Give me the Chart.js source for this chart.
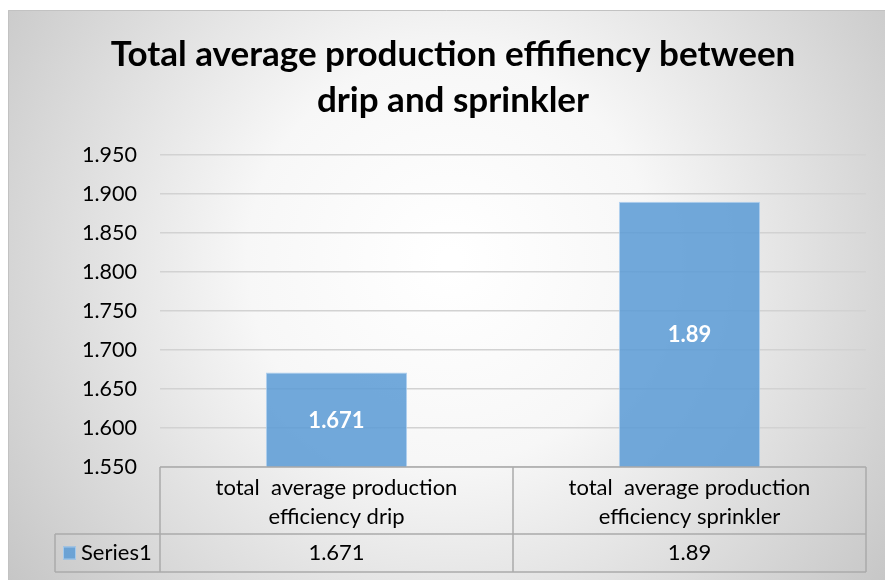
<!DOCTYPE html>
<html>
<head>
<meta charset="utf-8">
<script src="https://cdn.jsdelivr.net/npm/chart.js@4"></script>
<style>
  html, body { margin: 0; padding: 0; background: #ffffff; }
  #wrap { width: 885px; height: 580px; position: relative; }
</style>
</head>
<body>
<div id="wrap"><canvas id="c" width="885" height="580"></canvas></div>
<script>
const categories = [
  ['total  average production', 'efficiency drip'],
  ['total  average production', 'efficiency sprinkler']
];
const seriesName = 'Series1';
const seriesValues = [1.671, 1.89];
const tableValues = ['1.671', '1.89'];
const yMin = 1.55;
const yMax = 1.95;
const yStep = 0.05;

const FONT = 'Lato, "Open Sans", sans-serif';
const BAR_FILL = 'rgba(91,155,213,0.86)';
const BAR_EDGE = 'rgba(170,205,238,0.9)';
const TABLE_LINE = '#ababab';

// Panel background: soft radial gradient with a thin border
const backgroundPanel = {
  id: 'backgroundPanel',
  beforeDraw(chart) {
    const ctx = chart.ctx;
    ctx.save();
    ctx.fillStyle = '#ffffff';
    ctx.fillRect(0, 0, chart.width, chart.height);
    const g = ctx.createRadialGradient(450, 260, 10, 450, 260, 560);
    g.addColorStop(0, '#ffffff');
    g.addColorStop(0.35, '#f7f7f7');
    g.addColorStop(1, '#c4c4c4');
    ctx.fillStyle = g;
    ctx.fillRect(8, 10, chart.width - 8, chart.height - 10);
    ctx.strokeStyle = '#c2c2c2';
    ctx.lineWidth = 1;
    ctx.beginPath();
    ctx.moveTo(8.5, chart.height);
    ctx.lineTo(8.5, 10.5);
    ctx.lineTo(chart.width, 10.5);
    ctx.stroke();
    ctx.restore();
  }
};

// Value labels centred inside each bar
const barLabels = {
  id: 'barLabels',
  afterDatasetsDraw(chart) {
    const ctx = chart.ctx;
    const meta = chart.getDatasetMeta(0);
    const yScale = chart.scales.y;
    ctx.save();
    ctx.fillStyle = '#ffffff';
    ctx.font = 'bold 22px ' + FONT;
    ctx.textAlign = 'center';
    ctx.textBaseline = 'middle';
    meta.data.forEach((bar, i) => {
      const top = yScale.getPixelForValue(seriesValues[i]);
      const base = yScale.getPixelForValue(yMin);
      ctx.fillText(String(seriesValues[i]), bar.x, (top + base) / 2 + 1);
    });
    ctx.restore();
  }
};

// Data table under the plot: category row, then legend key + values row
const dataTable = {
  id: 'dataTable',
  afterDraw(chart) {
    const ctx = chart.ctx;
    const x = chart.scales.x;
    const area = chart.chartArea;
    const n = categories.length;
    const colW = (area.right - area.left) / n;
    const top = area.bottom;
    const mid = top + 67;
    const bottom = mid + 38;
    const keyLeft = 55;

    ctx.save();
    ctx.strokeStyle = TABLE_LINE;
    ctx.lineWidth = 1.5;
    ctx.beginPath();
    // horizontal rules
    ctx.moveTo(area.left, top); ctx.lineTo(area.right, top);
    ctx.moveTo(keyLeft, mid); ctx.lineTo(area.right, mid);
    ctx.moveTo(keyLeft, bottom); ctx.lineTo(area.right, bottom);
    // vertical rules
    ctx.moveTo(keyLeft, mid); ctx.lineTo(keyLeft, bottom);
    for (let i = 0; i <= n; i++) {
      const cx = area.left + i * colW;
      ctx.moveTo(cx, top); ctx.lineTo(cx, bottom);
    }
    ctx.stroke();

    ctx.fillStyle = '#000000';
    ctx.font = '22px ' + FONT;
    ctx.textAlign = 'center';
    ctx.textBaseline = 'middle';
    categories.forEach((lines, i) => {
      const cx = x.getPixelForValue(i);
      lines.forEach((ln, j) => ctx.fillText(ln, cx, top + 21 + j * 29));
      ctx.fillText(tableValues[i], cx, (mid + bottom) / 2);
    });

    // legend key
    ctx.fillStyle = BAR_FILL;
    ctx.fillRect(63, (mid + bottom) / 2 - 6.5, 13, 13);
    ctx.strokeStyle = BAR_EDGE;
    ctx.lineWidth = 1;
    ctx.strokeRect(63.5, (mid + bottom) / 2 - 6, 12, 12);
    ctx.fillStyle = '#000000';
    ctx.textAlign = 'left';
    ctx.fillText(seriesName, 81, (mid + bottom) / 2);
    ctx.restore();
  }
};

new Chart(document.getElementById('c'), {
  type: 'bar',
  data: {
    labels: categories.map(l => l.join(' ')),
    datasets: [{
      label: seriesName,
      data: seriesValues,
      backgroundColor: BAR_FILL,
      borderColor: BAR_EDGE,
      borderWidth: 1,
      barPercentage: 0.4,
      categoryPercentage: 1.0
    }]
  },
  options: {
    responsive: false,
    animation: false,
    devicePixelRatio: 1,
    layout: { padding: { top: 32, right: 19, bottom: 113, left: 40 } },
    plugins: {
      legend: { display: false },
      tooltip: { enabled: false },
      title: {
        display: true,
        text: ['Total average production effifiency between', 'drip and sprinkler'],
        color: '#000000',
        font: { family: FONT, size: 35, weight: 'bold', lineHeight: 1.3 },
        padding: { top: 0, bottom: 32 }
      }
    },
    scales: {
      x: { display: false },
      y: {
        min: yMin,
        max: yMax,
        border: { display: false },
        grid: { color: '#d2d2d2', lineWidth: 1.5, drawTicks: false },
        ticks: {
          stepSize: yStep,
          padding: 23,
          color: '#000000',
          font: { family: FONT, size: 21.5 },
          callback: v => Number(v).toFixed(3)
        },
        afterFit(scale) { scale.width = 120; }
      }
    }
  },
  plugins: [backgroundPanel, barLabels, dataTable]
});
</script>
</body>
</html>
